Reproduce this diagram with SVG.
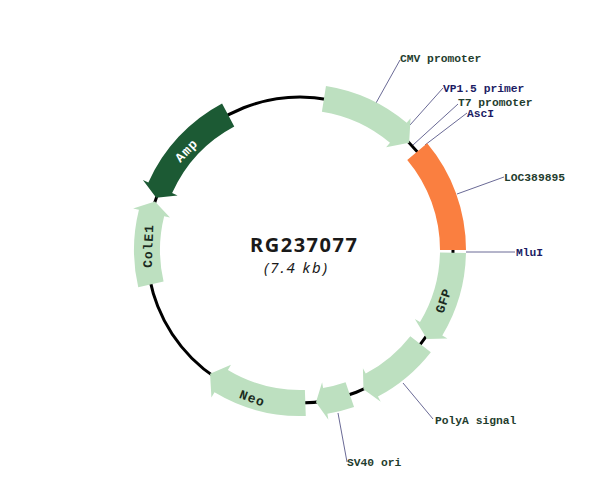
<svg xmlns="http://www.w3.org/2000/svg" width="600" height="504" viewBox="0 0 600 504">
<style>
.feat{fill:#bde0c0;}
.lbl{font-family:"Liberation Mono","Courier New",monospace;font-weight:bold;font-size:11.3px;}
.g{fill:#1f3d2e;}
.n{fill:#1c1c64;}
.fl{font-family:"Liberation Mono","Courier New",monospace;font-weight:bold;font-size:13px;letter-spacing:1px;fill:#1a2a20;text-anchor:middle;dominant-baseline:central;}
.ln{stroke:#6a6a96;stroke-width:1;fill:none;}
</style>
<rect width="600" height="504" fill="#ffffff"/>
<g id="backbone">
<circle cx="300" cy="250" r="153" fill="none" stroke="#000000" stroke-width="3"/>
</g>
<g id="connectors">
<line class="ln" x1="400" y1="60" x2="376" y2="103"/>
<line class="ln" x1="443" y1="88" x2="410" y2="125"/>
<line class="ln" x1="458" y1="104" x2="413" y2="145"/>
<line class="ln" x1="467" y1="113" x2="425" y2="145"/>
<line class="ln" x1="504" y1="177" x2="457" y2="194"/>
<line class="ln" x1="466" y1="252" x2="515" y2="252"/>
<line class="ln" x1="433" y1="419" x2="403" y2="383"/>
<line class="ln" x1="347" y1="462" x2="338" y2="413"/>
</g>
<g id="cmv">
<path class="feat" d="M325.97 86.04 A166 166 0 0 1 406.70 122.84 L410.56 118.25 L409.13 142.76 L386.14 147.36 L389.99 142.76 A140 140 0 0 0 321.90 111.73 Z"/>
</g>
<g id="loc389895">
<path fill="#fa7f40" d="M427.16 143.30 A166 166 0 0 1 466 250 L440 250 A140 140 0 0 0 407.24 160.01 Z"/>
</g>
<g id="gfp">
<path class="feat" d="M465.97 252.90 A166 166 0 0 1 442.29 335.49 L447.44 338.58 L426.97 338.91 L414.86 319.01 L420.01 322.10 A140 140 0 0 0 439.98 252.44 Z"/>
<text class="fl" x="444" y="301" transform="rotate(-71 444 301)" style="letter-spacing:0.5px">GFP</text>
</g>
<g id="polya">
<path class="feat" d="M430.81 352.21 A166 166 0 0 1 377.94 396.56 L380.75 401.86 L363.45 389.23 L362.91 368.31 L365.73 373.61 A140 140 0 0 0 410.32 336.20 Z"/>
</g>
<g id="sv40">
<path class="feat" d="M354.05 406.96 A166 166 0 0 1 327.39 413.73 L328.38 419.64 L315.99 402.16 L322.11 382.16 L323.10 388.08 A140 140 0 0 0 345.58 382.37 Z"/>
</g>
<g id="neo">
<path class="feat" d="M305.79 415.90 A166 166 0 0 1 214.51 392.30 L211.42 397.44 L210.07 373.78 L230.99 364.86 L227.90 370.01 A140 140 0 0 0 304.89 389.91 Z"/>
<text class="fl" x="252" y="399" transform="rotate(20 252 399)">Neo</text>
</g>
<g id="cole1">
<path class="feat" d="M138.25 287.35 A166 166 0 0 1 138.93 209.84 L133.11 208.39 L154.91 201.45 L169.98 217.58 L164.16 216.13 A140 140 0 0 0 163.58 281.50 Z"/>
<text class="fl" x="149" y="246" transform="rotate(-88 149 246)">ColE1</text>
</g>
<g id="amp">
<path fill="#1c5a34" d="M222.06 103.44 A166 166 0 0 0 148.35 182.48 L142.87 180.04 L156.23 197.67 L177.59 195.50 L172.11 193.06 A140 140 0 0 1 234.27 126.39 Z"/>
<text class="fl" x="187" y="151" transform="rotate(-46 187 151)" style="fill:#ffffff">Amp</text>
</g>
<g id="labels">
<text class="lbl g" x="400" y="62">CMV promoter</text>
<text class="lbl n" x="443" y="92">VP1.5 primer</text>
<text class="lbl g" x="458" y="106">T7 promoter</text>
<text class="lbl n" x="467" y="117">AscI</text>
<text class="lbl g" x="504" y="181">LOC389895</text>
<text class="lbl n" x="516" y="256">MluI</text>
<text class="lbl g" x="435" y="424">PolyA signal</text>
<text class="lbl g" x="347" y="466">SV40 ori</text>
</g>
<g id="title">
<text x="250" y="252" font-family="Noto Sans, sans-serif" font-weight="bold" font-size="20" fill="#1a1a1a" textLength="107" lengthAdjust="spacing">RG237077</text>
<text x="264" y="273" font-family="Noto Sans, sans-serif" font-style="italic" font-size="15" fill="#1a1a1a" textLength="63" lengthAdjust="spacing">(7.4 kb)</text>
</g>
</svg>
